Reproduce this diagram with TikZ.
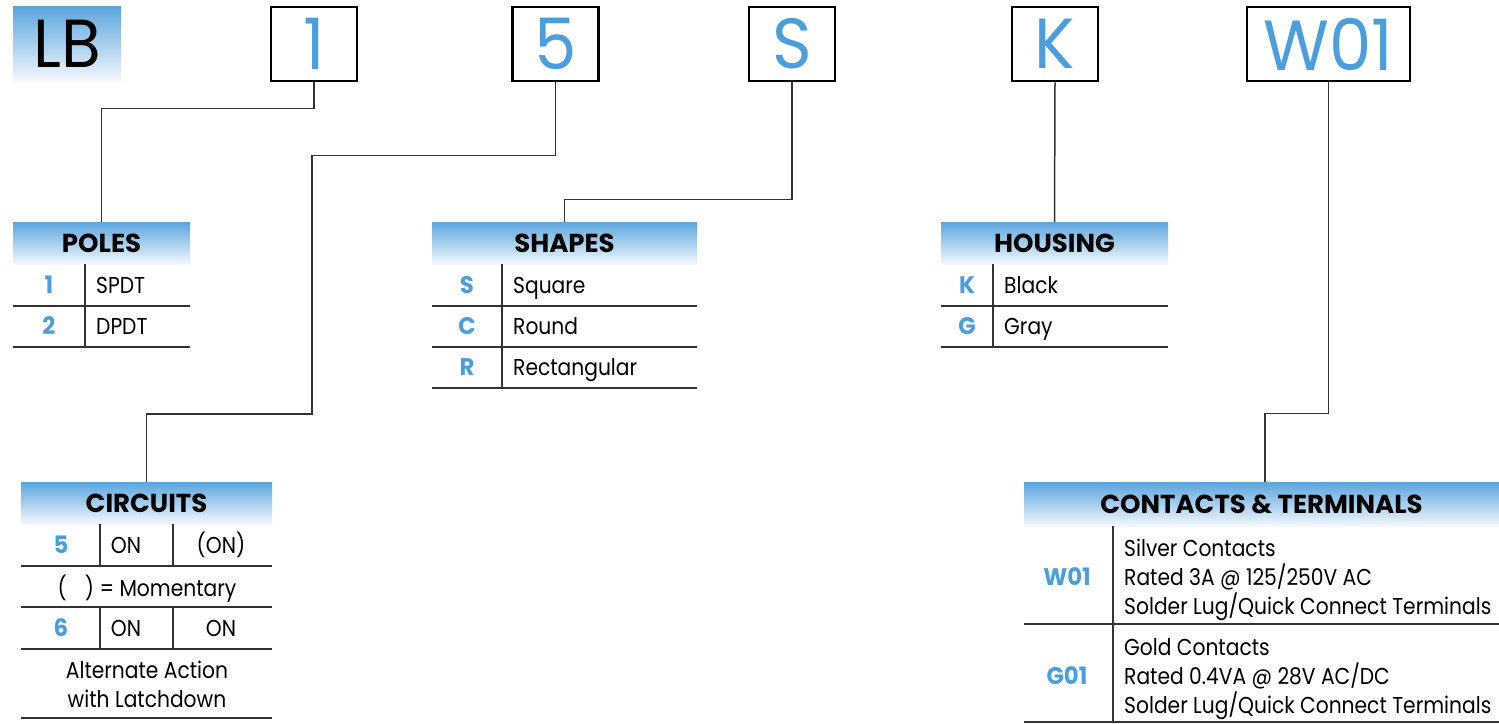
\documentclass[tikz,border=0pt]{standalone}
\usepackage{fontspec}
\setmainfont{Poppins}[FakeStretch=0.88]
\newfontfamily\hdrf{Poppins}
\newfontfamily\bigf{Poppins}[FakeStretch=0.95]
\newfontfamily\codef{Poppins}[FakeStretch=0.95]
\definecolor{hdrtop}{HTML}{5AA5DD}
\definecolor{hdrbot}{HTML}{F4F8FD}
\definecolor{codeblue}{HTML}{4A9EDB}
\definecolor{rulegray}{HTML}{333333}
\begin{document}
\begin{tikzpicture}[x=1pt,y=-1pt,
  bigbox/.style={draw=black, line width=2.5pt, minimum width=86pt, minimum height=74pt, inner sep=0pt, text=codeblue, font=\bigf\fontsize{71}{71}\selectfont},
  hdr/.style={top color=hdrtop, bottom color=hdrbot, draw=none, inner sep=0pt, font=\hdrf\bfseries\fontsize{26}{26}\selectfont, minimum height=42pt},
  code/.style={text=codeblue, font=\codef\bfseries\fontsize{24}{24}\selectfont, inner sep=0pt, text height=16.5pt, text depth=0pt},
  txt/.style={font=\fontsize{23}{23}\selectfont, inner sep=0pt, text height=16pt, text depth=0pt, anchor=west},
  ctxt/.style={font=\fontsize{23}{23}\selectfont, inner sep=0pt, text height=16pt, text depth=0pt},
  rulel/.style={line width=1.5pt, draw=rulegray},
  conn/.style={line width=1.5pt, draw=rulegray}]
\useasboundingbox (0,0) rectangle (1499,723);
% top row
\node[top color=hdrtop, bottom color=hdrbot, minimum width=108pt, minimum height=75pt, inner sep=0pt, font=\bigf\fontsize{68}{68}\selectfont] (lb) at (67,43.5) {LB};
\node[bigbox] (b1) at (314,44) {1};
\node[bigbox] (b5) at (555.5,44) {5};
\node[bigbox] (bS) at (792,44) {S};
\node[bigbox] (bK) at (1055,44) {K};
\node[bigbox, minimum width=163pt] (bW) at (1328.5,44) {W01};
% POLES
\node[hdr, minimum width=177pt] (poles) at (101.5,243) {POLES};
\draw[rulel] (13,306) -- (190,306) (13,347) -- (190,347) (85,264) -- (85,347);
\node[code] (p1) at (49,285) {1};
\node[txt] (p1t) at (96,285) {SPDT};
\node[code] (p2) at (49,326) {2};
\node[txt] (p2t) at (96,326) {DPDT};
% SHAPES
\node[hdr, minimum width=265pt] (shapes) at (564.5,243) {SHAPES};
\draw[rulel] (432,306) -- (697,306) (432,347) -- (697,347) (432,388) -- (697,388) (502,264) -- (502,388);
\node[code] (s1) at (467,285) {S};
\node[txt] (s1t) at (513,285) {Square};
\node[code] (s2) at (467,326) {C};
\node[txt] (s2t) at (513,326) {Round};
\node[code] (s3) at (467,367) {R};
\node[txt] (s3t) at (513,367) {Rectangular};
% HOUSING
\node[hdr, minimum width=227pt] (housing) at (1054.5,243) {HOUSING};
\draw[rulel] (941,306) -- (1168,306) (941,347) -- (1168,347) (993,264) -- (993,347);
\node[code] (h1) at (967,285) {K};
\node[txt] (h1t) at (1004,285) {Black};
\node[code] (h2) at (967,326) {G};
\node[txt] (h2t) at (1004,326) {Gray};
% CIRCUITS
\node[hdr, minimum width=251pt] (circ) at (146.5,503) {CIRCUITS};
\draw[rulel] (21,566) -- (272,566) (21,607) -- (272,607) (21,649) -- (272,649) (21,718) -- (272,718)
  (100,524) -- (100,566) (173,524) -- (173,566) (100,607) -- (100,649) (173,607) -- (173,649);
\node[code] (c5) at (61,545) {5};
\node[ctxt] (c5a) at (126,545) {ON};
\node[ctxt] (c5b) at (221,545) {(ON)};
\node[ctxt] (cm) at (147,588) {(\hspace{18pt}) = Momentary};
\node[code] (c6) at (61,628) {6};
\node[ctxt] (c6a) at (126,628) {ON};
\node[ctxt] (c6b) at (221,628) {ON};
\node[ctxt] (ca1) at (147,670) {Alternate Action};
\node[ctxt] (ca2) at (147,699) {with Latchdown};
% CONTACTS
\node[hdr, minimum width=475pt, minimum height=44pt] (cont) at (1261.5,504) {CONTACTS \& TERMINALS};
\draw[rulel] (1024,624) -- (1499,624) (1024,722) -- (1499,722) (1113,526) -- (1113,722);
\node[code] (w01) at (1067,577) {W01};
\node[txt] (w1) at (1124,548) {Silver Contacts};
\node[txt] (w2) at (1124,577) {Rated 3A @ 125/250V AC};
\node[txt] (w3) at (1124,606) {Solder Lug/Quick Connect Terminals};
\node[code] (g01) at (1067,676) {G01};
\node[txt] (g1) at (1124,647) {Gold Contacts};
\node[txt] (g2) at (1124,676) {Rated 0.4VA @ 28V AC/DC};
\node[txt] (g3) at (1124,705) {Solder Lug/Quick Connect Terminals};
% connectors
\coordinate (j5) at (312,414);
\draw[conn] (b1.south) -- ++(0,26) -| (poles.north);
\draw[conn] (b5.south) -- ++(0,73) -| (j5) -| (circ.north);
\draw[conn] (bS.south) -- ++(0,117) -| (shapes.north);
\draw[conn] (bK.south) -- (housing.north);
\draw[conn] (bW.south) -- ++(0,331) -| ([xshift=3.5pt]cont.north);
\end{tikzpicture}
\end{document}
